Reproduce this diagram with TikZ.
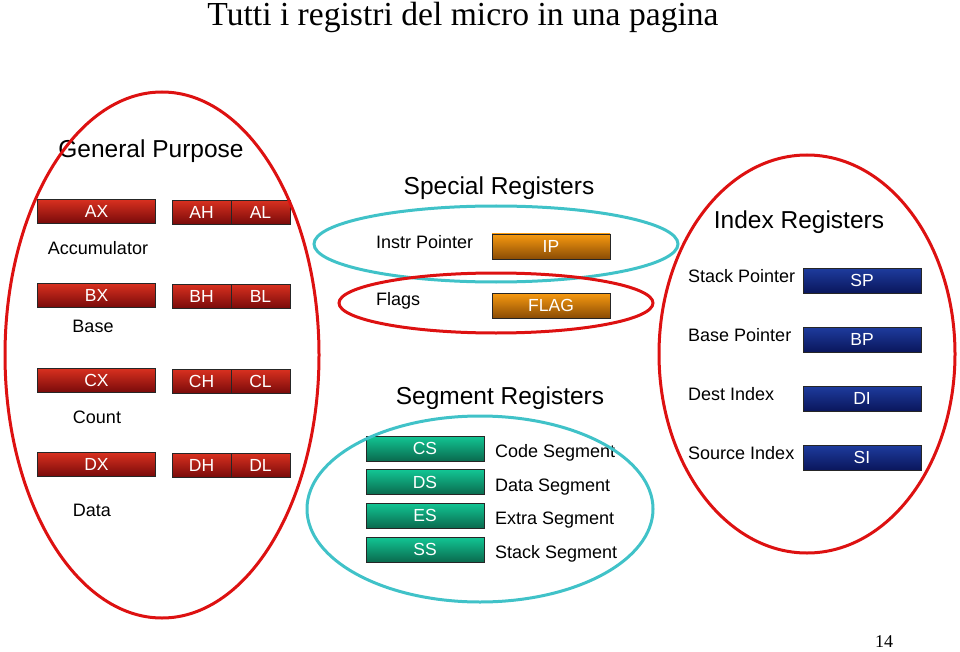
\documentclass[tikz,border=0pt]{standalone}
\usepackage{fontspec}
\setmainfont{Liberation Serif}
\newfontfamily\arialfont{Liberation Sans}
\definecolor{ringred}{HTML}{DD1111}
\definecolor{ringcyan}{HTML}{40C2C8}
\definecolor{redtop}{HTML}{D8301F}
\definecolor{redbot}{HTML}{780A0A}
\definecolor{oratop}{HTML}{F89A10}
\definecolor{orabot}{HTML}{8A4C05}
\definecolor{blutop}{HTML}{1E3C9E}
\definecolor{blubot}{HTML}{0A165C}
\definecolor{grntop}{HTML}{12C694}
\definecolor{grnbot}{HTML}{0A6A4E}
\begin{document}
\begin{tikzpicture}[x=1pt,y=-1pt,
  reg/.style={draw=black!85, line width=0.8pt, inner sep=0pt, text=white,
    minimum width=118pt, minimum height=24pt,
    font=\arialfont\fontsize{17.5}{19}\selectfont},
  half/.style={reg, minimum width=59pt},
  redreg/.style={top color=redtop, bottom color=redbot},
  orareg/.style={top color=oratop, bottom color=orabot},
  blureg/.style={top color=blutop, bottom color=blubot},
  grnreg/.style={top color=grntop, bottom color=grnbot},
  lbl/.style={inner sep=0pt, font=\arialfont\fontsize{18}{20}\selectfont},
  hdr/.style={inner sep=0pt, font=\arialfont\fontsize{24.5}{28}\selectfont},
  ring/.style={line width=3pt}]
\useasboundingbox (0,0) rectangle (960,652);

% title
\node[inner sep=0pt, font=\fontsize{33.6}{38}\selectfont] (title) at (463,17) {Tutti i registri del micro in una pagina};

% General purpose
\node[hdr] (gp) at (151,151) {General Purpose};
\node[reg,redreg] (ax) at (96.5,211.5) {AX};
\node[half,redreg] (ah) at (201.5,212.5) {AH};
\node[half,redreg] (al) at (260.5,212.5) {AL};
\node[lbl] (acc) at (98,248) {Accumulator};
\node[reg,redreg] (bx) at (96.5,295.5) {BX};
\node[half,redreg] (bh) at (201.5,296.5) {BH};
\node[half,redreg] (bl) at (260.5,296.5) {BL};
\node[lbl] (base) at (93,326) {Base};
\node[reg,redreg] (cx) at (96.5,380.5) {CX};
\node[half,redreg] (ch) at (201.5,381.5) {CH};
\node[half,redreg] (cl) at (260.5,381.5) {CL};
\node[lbl] (count) at (97,417) {Count};
\node[reg,redreg] (dx) at (96.5,464.5) {DX};
\node[half,redreg] (dh) at (201.5,465.5) {DH};
\node[half,redreg] (dl) at (260.5,465.5) {DL};
\node[lbl] (data) at (92,510) {Data};

% Special registers
\node[hdr] (sr) at (499,188) {Special Registers};
\node[lbl,anchor=west] (ipl) at (376,242) {Instr Pointer};
\node[reg,orareg,minimum height=25pt] (ip) at (551,246.5) {IP};
\node[lbl,anchor=west] (flagsl) at (376,301) {Flags};
\node[reg,orareg,minimum height=25pt] (flag) at (551,305.5) {FLAG};

% Index registers
\node[hdr] (ir) at (799,222) {Index Registers};
\node[lbl,anchor=west] (spl) at (688,276) {Stack Pointer};
\node[reg,blureg,minimum height=25pt] (sp) at (862,280.5) {SP};
\node[lbl,anchor=west] (bpl) at (688,335) {Base Pointer};
\node[reg,blureg,minimum height=25pt] (bp) at (862,339.5) {BP};
\node[lbl,anchor=west] (dil) at (688,394) {Dest Index};
\node[reg,blureg,minimum height=25pt] (di) at (862,398.5) {DI};
\node[lbl,anchor=west] (sil) at (688,453) {Source Index};
\node[reg,blureg,minimum height=25pt] (si) at (862,457.5) {SI};

% Segment registers
\node[hdr] (sg) at (500,398) {Segment Registers};
\node[reg,grnreg,minimum height=25pt] (cs) at (425,448.5) {CS};
\node[lbl,anchor=west] (csl) at (495,453) {Code Segment};
\node[reg,grnreg,minimum height=25pt] (ds) at (425,482) {DS};
\node[lbl,anchor=west] (dsl) at (495,487) {Data Segment};
\node[reg,grnreg,minimum height=25pt] (es) at (425,515.5) {ES};
\node[lbl,anchor=west] (esl) at (495,520) {Extra Segment};
\node[reg,grnreg,minimum height=25pt] (ss) at (425,549.5) {SS};
\node[lbl,anchor=west] (ssl) at (495,554) {Stack Segment};

% rings
\draw[ring,ringred] (162,355) ellipse [x radius=157pt, y radius=263pt];
\draw[ring,ringcyan] (496,244) ellipse [x radius=182pt, y radius=38pt];
\draw[ring,ringred] (496,303) ellipse [x radius=157pt, y radius=30pt];
\draw[ring,ringred] (807,354) ellipse [x radius=148pt, y radius=199pt];
\draw[ring,ringcyan] (480,509) ellipse [x radius=173pt, y radius=93pt];

% page number
\node[inner sep=0pt, font=\fontsize{18}{20}\selectfont] (pg) at (884,642) {14};
\end{tikzpicture}
\end{document}
